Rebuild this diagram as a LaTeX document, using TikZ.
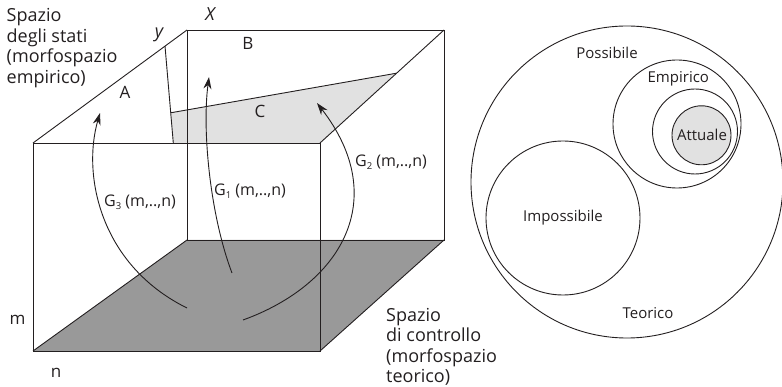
\documentclass[tikz,border=0pt]{standalone}
\usepackage{fontspec}
\setmainfont{Open Sans}
\usetikzlibrary{arrows.meta}
\definecolor{floorgray}{RGB}{153,153,153}
\definecolor{planegray}{RGB}{225,225,225}
\definecolor{inkblack}{RGB}{35,31,32}
\newcommand{\gsub}[1]{\raisebox{-0.35ex}{\fontsize{9.5}{9.5}\selectfont #1}}

\begin{document}
\begin{tikzpicture}[
    x=1pt, y=-1pt,
    >={Stealth[length=12pt, width=8pt]},
    edge/.style={draw=inkblack, line width=0.9pt},
    bigtext/.style={text=inkblack, font=\fontsize{18}{20.5}\selectfont, align=left, inner sep=0pt},
    glabel/.style={text=inkblack, font=\fontsize{16}{18}\selectfont, inner sep=0pt, anchor=base west},
    venntext/.style={text=inkblack, font=\fontsize{15}{18}\selectfont, inner sep=0pt},
    lettertext/.style={text=inkblack, font=\fontsize{17}{18}\selectfont, inner sep=0pt}
]

\useasboundingbox (0,0) rectangle (782,387);

% Cube corners
\coordinate (FTL) at (33,143);
\coordinate (FTR) at (320,143);
\coordinate (FBL) at (33,351);
\coordinate (FBR) at (320,351);
\coordinate (BTL) at (187,30);
\coordinate (BTR) at (444,30);
\coordinate (BBL) at (187,240);
\coordinate (BBR) at (444,240);

% Plane C corners
\coordinate (YTOP) at (165,46);
\coordinate (YBOT) at (173.3,143);
\coordinate (CL) at (171.2,112.7);
\coordinate (CR) at (396,73.3);

% Control space (floor)
\fill[floorgray] (FBL) -- (FBR) -- (BBR) -- (BBL) -- cycle;

% State space region C
\fill[planegray] (CL) -- (CR) -- (FTR) -- (YBOT) -- cycle;
\draw[edge] (CL) -- (CR);
\draw[edge] (YTOP) -- (YBOT);

% Cube edges
\draw[edge] (FTL) rectangle (FBR);
\draw[edge] (BTL) -- (BTR) -- (BBR) -- (BBL) -- cycle;
\draw[edge] (FTL) -- (BTL);
\draw[edge] (FTR) -- (BTR);
\draw[edge] (FBL) -- (BBL);
\draw[edge] (FBR) -- (BBR);

% Axis and region labels
\node[text=inkblack, font=\fontsize{18}{21}\selectfont\itshape, inner sep=0pt] (xlab) at (210,14) {X};
\node[text=inkblack, font=\fontsize{18}{21}\selectfont\itshape, inner sep=0pt] (ylab) at (159,35) {y};
\node[lettertext] (regA) at (125,92) {A};
\node[lettertext] (regB) at (248,43) {B};
\node[lettertext] (regC) at (260,111) {C};
\node[lettertext] (labm) at (17.5,320) {m};
\node[lettertext] (labn) at (56,373) {n};

\node[bigtext, anchor=north west] (statespace) at (6.5,8.5) {Spazio\\degli stati\\(morfospazio\\empirico)};
\node[bigtext, anchor=north west] (controlspace) at (386,308) {Spazio\\di controllo\\(morfospazio\\teorico)};

% Genotype-phenotype maps
\coordinate (g3s) at (187,308);
\coordinate (g3e) at (100,113);
\coordinate (g1s) at (232,273);
\coordinate (g1e) at (209,77);
\coordinate (g2s) at (243,320);
\coordinate (g2e) at (317,103);
\draw[edge, ->] (g3s) .. controls (100,265) and (82,175) .. (g3e);
\draw[edge, ->] (g1s) .. controls (210,215) and (202,130) .. (g1e);
\draw[edge, ->] (g2s) .. controls (340,285) and (392,200) .. (g2e);

\node[glabel] (g3lab) at (104,207) {G\gsub{3} (m,..,n)};
\node[glabel] (g1lab) at (214,196) {G\gsub{1} (m,..,n)};
\node[glabel] (g2lab) at (355,167) {G\gsub{2} (m,..,n)};

% Morphospace circles
\draw[edge] (627,182) circle (156);
\draw[edge] (563,218) circle (77);
\draw[edge] (677,124) circle (64);
\draw[edge] (695,131.5) circle (42.5);
\draw[edge, fill=planegray] (701.5,135.3) circle (29.5);

\node[venntext] (possibile) at (607,52.7) {Possibile};
\node[venntext] (empirico) at (678.3,79) {Empirico};
\node[venntext] (attuale) at (702,135) {Attuale};
\node[venntext] (impossibile) at (563,217.7) {Impossibile};
\node[venntext] (teorico) at (648,312.7) {Teorico};

\end{tikzpicture}
\end{document}
